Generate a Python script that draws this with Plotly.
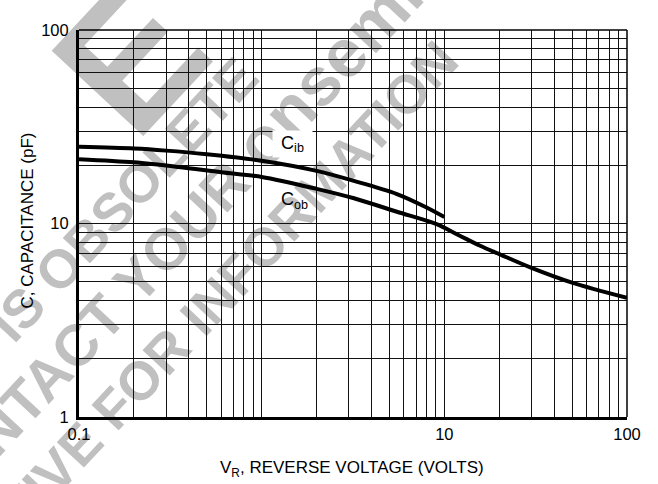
import plotly.graph_objects as go

# ---- data ----
v_cib = [0.1, 0.2, 0.3, 0.5, 1.0, 2.0, 3.2, 5.5, 8.0, 10]
c_cib = [24.9, 24.4, 23.8, 22.8, 21.1, 18.7, 16.6, 14.2, 12.1, 10.8]

v_cob = [0.1, 0.2, 0.35, 0.6, 1.0, 2.0, 3.2, 5.5, 9.0, 12, 15.7, 20, 30, 50, 100]
c_cob = [21.5, 20.7, 19.6, 18.4, 17.4, 15.1, 13.5, 11.5, 9.95, 8.7, 7.67, 6.95, 5.9, 4.95, 4.13]

x_grid = [m * d for d in (0.1, 1, 10) for m in range(1, 10)] + [100]
x_tick_labels = {0.1: "0.1", 10: "10", 100: "100"}
y_grid = [m * d for d in (1, 10) for m in range(1, 10)] + [100]
y_tick_labels = {1: "1", 10: "10", 100: "100"}

watermark_lines = [
    "<b>E</b>",
    "<b>IS OBSOLETE</b>",
    "<b>CONTACT YOUR <span style='font-size:68px'>onsemi</span></b>",
    "<b>REPRESENTATIVE FOR INFORMATION</b>",
]

FONT = "Liberation Sans, Arial, sans-serif"

fig = go.Figure()
fig.add_trace(go.Scatter(x=v_cib, y=c_cib, mode="lines", name="Cib",
                         line=dict(color="black", width=4, shape="spline", smoothing=0.9)))
fig.add_trace(go.Scatter(x=v_cob, y=c_cob, mode="lines", name="Cob",
                         line=dict(color="black", width=4, shape="spline", smoothing=0.9)))

fig.update_layout(
    width=658, height=484,
    margin=dict(l=79, r=31, t=30, b=67),
    paper_bgcolor="white", plot_bgcolor="white",
    showlegend=False,
    font=dict(family=FONT, size=16, color="black"),
    xaxis=dict(type="log", range=[-1, 2], tickmode="array", tickvals=x_grid,
               ticktext=[x_tick_labels.get(round(v, 6), "") for v in x_grid],
               showgrid=True, gridcolor="#111", gridwidth=1.3,
               showline=True, linecolor="black", linewidth=3, ticks="",
               zeroline=False, tickfont=dict(family=FONT, size=16.5)),
    yaxis=dict(type="log", range=[0, 2], tickmode="array", tickvals=y_grid,
               ticktext=[y_tick_labels.get(round(v, 6), "") for v in y_grid],
               showgrid=True, gridcolor="#111", gridwidth=1.3,
               showline=True, linecolor="black", linewidth=3, ticks="",
               ticklabelstandoff=4,
               zeroline=False, tickfont=dict(family=FONT, size=16.5)),
)

# watermark (drawn beneath the grid)
PW, PH, L0, B0 = 548.0, 387.0, 79.0, 417.0
wm_centers = [(118, 46), (120, 196), (168, 247), (102, 413)]
wm_sizes = [182, 54, 58, 54]
for txt, (cx, cy), sz in zip(watermark_lines, wm_centers, wm_sizes):
    px = (cx - L0) / PW
    py = (B0 - cy) / PH
    fig.add_shape(type="line", xref="paper", yref="paper",
                  x0=px - 0.002, x1=px + 0.002, y0=py, y1=py,
                  line=dict(color="rgba(0,0,0,0)", width=0), layer="below",
                  label=dict(text=txt, textangle=-47,
                             textposition="middle", xanchor="center", yanchor="middle",
                             padding=0,
                             font=dict(family=FONT, size=sz, color="#c0c0c0")))

# top / right frame
fig.add_shape(type="line", xref="paper", yref="paper", x0=0, x1=1, y0=1, y1=1,
              line=dict(color="black", width=1.5))
fig.add_shape(type="line", xref="paper", yref="paper", x0=1, x1=1, y0=0, y1=1,
              line=dict(color="black", width=1.5))

# curve labels
fig.add_annotation(x=0.1713, y=1.412, xref="x", yref="y", text="C<sub>ib</sub>",
                   showarrow=False, bgcolor="white", width=39, height=26, borderpad=0,
                   font=dict(family=FONT, size=18))
fig.add_annotation(x=0.182, y=1.117, xref="x", yref="y", text="C<sub>ob</sub>",
                   showarrow=False, font=dict(family=FONT, size=18))

# axis titles
fig.add_annotation(x=0.498, y=-0.134, xref="paper", yref="paper",
                   text="V<sub>R</sub>, REVERSE VOLTAGE (VOLTS)", showarrow=False,
                   xanchor="center", yanchor="middle", font=dict(family=FONT, size=17))
fig.add_annotation(x=-0.094, y=0.509, xref="paper", yref="paper",
                   text="C, CAPACITANCE (pF)", showarrow=False, textangle=-90,
                   xanchor="center", yanchor="middle", font=dict(family=FONT, size=17))

fig.write_html("out.html", config={"displayModeBar": False},
               post_script="document.body.style.margin='0';")
